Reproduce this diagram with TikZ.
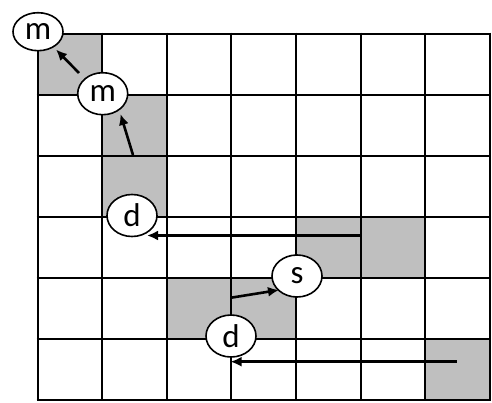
\documentclass[tikz,border=0pt]{standalone}
\usepackage{fontspec}
\setmainfont{Carlito}
\usetikzlibrary{shapes.geometric,arrows.meta}
\begin{document}
\begin{tikzpicture}[x=1pt,y=-1pt,
        cellline/.style={line width=2pt},
        shaded/.style={fill=gray!50},
        mover/.style={-{Latex[length=11pt,width=10pt]},line width=2.6pt},
        state/.style={ellipse,draw,fill=white,line width=1.6pt,minimum width=50pt,minimum height=42pt,inner sep=0pt,font=\fontsize{33}{33}\selectfont}]
    \useasboundingbox (0,0) rectangle (492,402);
    % shaded cells (column, row)
    \foreach \c/\r in {0/0, 1/1, 1/2, 4/3, 5/3, 2/4, 3/4, 6/5}
        \fill[shaded] (37.5+64.64*\c, 33.5+61*\r) rectangle ++(64.64,61);
    % grid
    \foreach \i in {0,...,7}
        \draw[cellline] (37.5+64.64*\i, 32.5) -- (37.5+64.64*\i, 400.5);
    \foreach \j in {0,...,6}
        \draw[cellline] (36.5, 33.5+61*\j) -- (491, 33.5+61*\j);
    % states
    \node[state,minimum height=38pt] (m1) at (38, 31.7) {m};
    \node[state] (m2) at (102.7, 93.7) {m};
    \node[state] (d1) at (132, 215.5) {d};
    \node[state] (s) at (297, 276) {s};
    \node[state] (d2) at (231, 336) {d};
    % moves
    \coordinate (u1) at (79, 73);      \coordinate (u1e) at (56, 49.5);
    \coordinate (u2) at (133, 155);    \coordinate (u2e) at (120.5, 114);
    \coordinate (l1) at (360.7, 235.5); \coordinate (l1e) at (147, 235.5);
    \coordinate (r1) at (231, 297.7);  \coordinate (r1e) at (279, 290);
    \coordinate (l2) at (456.7, 361.7); \coordinate (l2e) at (230.5, 361.7);
    \draw[mover] (u1) -- (u1e);
    \draw[mover] (u2) -- (u2e);
    \draw[mover] (l1) -- (l1e);
    \draw[mover] (r1) -- (r1e);
    \draw[mover] (l2) -- (l2e);
\end{tikzpicture}
\end{document}
